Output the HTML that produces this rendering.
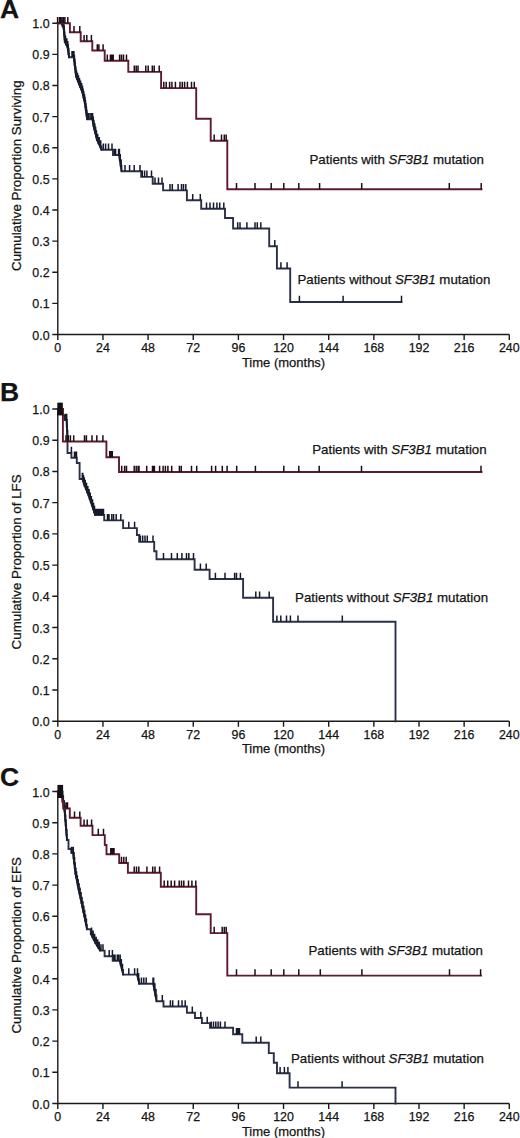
<!DOCTYPE html>
<html><head><meta charset="utf-8"><title>Kaplan-Meier curves</title>
<style>
html,body{margin:0;padding:0;background:#fff;}
body{width:520px;height:1138px;overflow:hidden;}
svg{display:block;}
text{font-family:"Liberation Sans",sans-serif;fill:#141414;stroke:#141414;stroke-width:0.25px;}
</style></head>
<body>
<svg width="520" height="1138" viewBox="0 0 520 1138">
<rect width="520" height="1138" fill="#fff"/>
<path d="M57.80,23.20V340.00M52.30,334.50H509.30M52.30,23.20H57.80M52.30,54.33H57.80M52.30,85.46H57.80M52.30,116.59H57.80M52.30,147.72H57.80M52.30,178.85H57.80M52.30,209.98H57.80M52.30,241.11H57.80M52.30,272.24H57.80M52.30,303.37H57.80M52.30,334.50H57.80M57.80,334.50V340.00M102.95,334.50V340.00M148.10,334.50V340.00M193.25,334.50V340.00M238.40,334.50V340.00M283.55,334.50V340.00M328.70,334.50V340.00M373.85,334.50V340.00M419.00,334.50V340.00M464.15,334.50V340.00M509.30,334.50V340.00" stroke="#1a1a1a" stroke-width="1.4" fill="none"/>
<text x="49.6" y="28.20" text-anchor="end" font-size="12.4">1.0</text>
<text x="49.6" y="59.33" text-anchor="end" font-size="12.4">0.9</text>
<text x="49.6" y="90.46" text-anchor="end" font-size="12.4">0.8</text>
<text x="49.6" y="121.59" text-anchor="end" font-size="12.4">0.7</text>
<text x="49.6" y="152.72" text-anchor="end" font-size="12.4">0.6</text>
<text x="49.6" y="183.85" text-anchor="end" font-size="12.4">0.5</text>
<text x="49.6" y="214.98" text-anchor="end" font-size="12.4">0.4</text>
<text x="49.6" y="246.11" text-anchor="end" font-size="12.4">0.3</text>
<text x="49.6" y="277.24" text-anchor="end" font-size="12.4">0.2</text>
<text x="49.6" y="308.37" text-anchor="end" font-size="12.4">0.1</text>
<text x="49.6" y="339.50" text-anchor="end" font-size="12.4">0.0</text>
<text x="57.80" y="352.10" text-anchor="middle" font-size="12.4">0</text>
<text x="102.95" y="352.10" text-anchor="middle" font-size="12.4">24</text>
<text x="148.10" y="352.10" text-anchor="middle" font-size="12.4">48</text>
<text x="193.25" y="352.10" text-anchor="middle" font-size="12.4">72</text>
<text x="238.40" y="352.10" text-anchor="middle" font-size="12.4">96</text>
<text x="283.55" y="352.10" text-anchor="middle" font-size="12.4">120</text>
<text x="328.70" y="352.10" text-anchor="middle" font-size="12.4">144</text>
<text x="373.85" y="352.10" text-anchor="middle" font-size="12.4">168</text>
<text x="419.00" y="352.10" text-anchor="middle" font-size="12.4">192</text>
<text x="464.15" y="352.10" text-anchor="middle" font-size="12.4">216</text>
<text x="509.30" y="352.10" text-anchor="middle" font-size="12.4">240</text>
<text x="283.55" y="366.50" text-anchor="middle" font-size="13.0">Time (months)</text>
<text transform="translate(20.6,175.65) rotate(-90)" text-anchor="middle" font-size="13.35">Cumulative Proportion Surviving</text>
<text x="0.0" y="17.60" font-size="26.5" font-weight="bold">A</text>
<path d="M57.80,23.20H61.40H62.55V26.00H63.70V28.80H63.98V32.08H64.25V35.35H64.53V38.62H64.80V41.90H66.15V44.60H67.50V47.30H68.00V50.63H68.50V53.97H69.00V57.30H73.70H74.16V61.14H74.62V64.98H75.08V68.82H75.54V72.66H76.00V76.50H77.00V79.07H78.00V81.63H79.00V84.20H80.07V86.80H81.13V89.40H82.20V92.00H82.85V94.75H83.50V97.50H84.15V100.25H84.80V103.00H85.26V106.24H85.72V109.48H86.18V112.72H86.64V115.96H87.10V119.20H92.30H92.90V122.60H93.50V126.00H94.35V129.50H95.20V133.00H96.05V136.50H96.90V140.00H98.43V143.27H99.97V146.53H101.50V149.80H113.00V155.00H119.00H119.83V160.40H120.67V165.80H121.50V171.20H141.20V176.90H152.70V183.80H163.10V190.40H186.90V200.30H201.20V208.80H225.00V218.00H233.10V228.50H269.20V246.30H276.90V268.50H290.20V302.00H401.50" stroke="#2a3048" stroke-width="1.9" fill="none" stroke-linejoin="miter" stroke-linecap="square"/>
<path d="M72.00,57.30V51.00M73.50,57.30V51.00M88.30,119.20V112.90M90.00,119.20V112.90M91.60,119.20V112.90M103.30,149.80V143.50M105.60,149.80V143.50M108.50,149.80V143.50M112.00,149.80V143.50M114.60,155.00V148.70M115.60,155.00V148.70M118.60,155.00V148.70M125.00,171.20V164.90M129.60,171.20V164.90M134.20,171.20V164.90M140.00,171.20V164.90M142.30,176.90V170.60M144.60,176.90V170.60M146.90,176.90V170.60M151.50,176.90V170.60M155.00,183.80V177.50M158.50,183.80V177.50M162.00,183.80V177.50M170.00,190.40V184.10M172.30,190.40V184.10M178.10,190.40V184.10M181.50,190.40V184.10M183.50,190.40V184.10M185.80,190.40V184.10M192.70,200.30V194.00M200.30,200.30V194.00M206.50,208.80V202.50M210.00,208.80V202.50M213.50,208.80V202.50M216.90,208.80V202.50M219.70,208.80V202.50M223.80,208.80V202.50M237.70,228.50V222.20M240.00,228.50V222.20M246.90,228.50V222.20M255.00,228.50V222.20M257.30,228.50V222.20M260.80,228.50V222.20M274.80,246.30V240.00M280.90,268.50V262.20M287.10,268.50V262.20M299.40,302.00V295.70M343.10,302.00V295.70M401.50,302.00V295.70M61.97,23.20V16.90M63.12,26.00V19.70M63.84,28.80V22.50M64.11,32.08V25.78M64.39,35.35V29.05M64.66,38.62V32.33M65.47,41.90V35.60M66.83,44.60V38.30M67.75,47.30V41.00M68.25,50.63V44.33M68.75,53.97V47.67M73.93,57.30V51.00M74.39,61.14V54.84M74.85,64.98V58.68M75.31,68.82V62.52M75.77,72.66V66.36M76.50,76.50V70.20M77.50,79.07V72.77M78.50,81.63V75.33M79.53,84.20V77.90M80.60,86.80V80.50M81.67,89.40V83.10M82.53,92.00V85.70M83.17,94.75V88.45M83.83,97.50V91.20M84.47,100.25V93.95M85.03,103.00V96.70M85.49,106.24V99.94M85.95,109.48V103.18M86.41,112.72V106.42M86.87,115.96V109.66M92.60,119.20V112.90M93.20,122.60V116.30M93.92,126.00V119.70M94.78,129.50V123.20M95.62,133.00V126.70M96.48,136.50V130.20M97.67,140.00V133.70M99.20,143.27V136.97M100.73,146.53V140.23M119.42,155.00V148.70M120.25,160.40V154.10M121.08,165.80V159.50" stroke="#151a2a" stroke-width="1.5" fill="none"/>
<path d="M61.40,23.20L63.70,28.80M63.70,28.80L64.80,41.90M64.80,41.90L67.50,47.30M67.50,47.30L69.00,57.30M73.70,57.30L76.00,76.50M76.00,76.50L79.00,84.20M79.00,84.20L82.20,92.00M82.20,92.00L84.80,103.00M84.80,103.00L87.10,119.20M92.30,119.20L93.50,126.00M93.50,126.00L96.90,140.00M96.90,140.00L101.50,149.80M119.00,155.00L121.50,171.20" stroke="#181c2c" stroke-width="1.7" fill="none" stroke-linecap="round" stroke-linejoin="round"/>
<path d="M57.80,23.20H69.90V32.20H80.70V41.20H92.30V50.50H104.70V60.80H128.30V71.90H161.10V88.10H196.20V118.80H210.70V140.70H227.30V189.20H481.50" stroke="#5e1b2e" stroke-width="1.9" fill="none" stroke-linejoin="miter" stroke-linecap="square"/>
<path d="M57.60,23.20V16.90M59.60,23.20V16.90M61.00,23.20V16.90M63.30,23.20V16.90M64.90,23.20V16.90M67.80,23.20V16.90M74.00,32.20V25.90M79.80,32.20V25.90M84.10,41.20V34.90M86.80,41.20V34.90M91.40,41.20V34.90M97.30,50.50V44.20M98.90,50.50V44.20M103.10,50.50V44.20M107.30,60.80V54.50M110.40,60.80V54.50M111.90,60.80V54.50M113.20,60.80V54.50M119.60,60.80V54.50M121.50,60.80V54.50M123.50,60.80V54.50M126.50,60.80V54.50M134.30,71.90V65.60M136.20,71.90V65.60M138.00,71.90V65.60M145.80,71.90V65.60M148.20,71.90V65.60M152.30,71.90V65.60M154.20,71.90V65.60M159.20,71.90V65.60M163.80,88.10V81.80M166.20,88.10V81.80M169.60,88.10V81.80M171.90,88.10V81.80M175.40,88.10V81.80M180.00,88.10V81.80M182.30,88.10V81.80M184.60,88.10V81.80M187.40,88.10V81.80M191.50,88.10V81.80M194.30,88.10V81.80M214.20,140.70V134.40M221.50,140.70V134.40M224.30,140.70V134.40M226.20,140.70V134.40M236.50,189.20V182.90M255.00,189.20V182.90M271.20,189.20V182.90M283.80,189.20V182.90M298.80,189.20V182.90M319.60,189.20V182.90M361.70,189.20V182.90M449.30,189.20V182.90M481.20,189.20V182.90" stroke="#200d14" stroke-width="1.5" fill="none"/>
<text x="309.50" y="164.40" font-size="13.3">Patients with <tspan font-style="italic">SF3B1</tspan> mutation</text>
<text x="297.40" y="283.50" font-size="13.3">Patients without <tspan font-style="italic">SF3B1</tspan> mutation</text>
<path d="M57.80,409.00V726.70M52.30,721.20H509.30M52.30,409.00H57.80M52.30,440.22H57.80M52.30,471.44H57.80M52.30,502.66H57.80M52.30,533.88H57.80M52.30,565.10H57.80M52.30,596.32H57.80M52.30,627.54H57.80M52.30,658.76H57.80M52.30,689.98H57.80M52.30,721.20H57.80M57.80,721.20V726.70M102.95,721.20V726.70M148.10,721.20V726.70M193.25,721.20V726.70M238.40,721.20V726.70M283.55,721.20V726.70M328.70,721.20V726.70M373.85,721.20V726.70M419.00,721.20V726.70M464.15,721.20V726.70M509.30,721.20V726.70" stroke="#1a1a1a" stroke-width="1.4" fill="none"/>
<text x="49.6" y="414.00" text-anchor="end" font-size="12.4">1.0</text>
<text x="49.6" y="445.22" text-anchor="end" font-size="12.4">0.9</text>
<text x="49.6" y="476.44" text-anchor="end" font-size="12.4">0.8</text>
<text x="49.6" y="507.66" text-anchor="end" font-size="12.4">0.7</text>
<text x="49.6" y="538.88" text-anchor="end" font-size="12.4">0.6</text>
<text x="49.6" y="570.10" text-anchor="end" font-size="12.4">0.5</text>
<text x="49.6" y="601.32" text-anchor="end" font-size="12.4">0.4</text>
<text x="49.6" y="632.54" text-anchor="end" font-size="12.4">0.3</text>
<text x="49.6" y="663.76" text-anchor="end" font-size="12.4">0.2</text>
<text x="49.6" y="694.98" text-anchor="end" font-size="12.4">0.1</text>
<text x="49.6" y="726.20" text-anchor="end" font-size="12.4">0.0</text>
<text x="57.80" y="738.80" text-anchor="middle" font-size="12.4">0</text>
<text x="102.95" y="738.80" text-anchor="middle" font-size="12.4">24</text>
<text x="148.10" y="738.80" text-anchor="middle" font-size="12.4">48</text>
<text x="193.25" y="738.80" text-anchor="middle" font-size="12.4">72</text>
<text x="238.40" y="738.80" text-anchor="middle" font-size="12.4">96</text>
<text x="283.55" y="738.80" text-anchor="middle" font-size="12.4">120</text>
<text x="328.70" y="738.80" text-anchor="middle" font-size="12.4">144</text>
<text x="373.85" y="738.80" text-anchor="middle" font-size="12.4">168</text>
<text x="419.00" y="738.80" text-anchor="middle" font-size="12.4">192</text>
<text x="464.15" y="738.80" text-anchor="middle" font-size="12.4">216</text>
<text x="509.30" y="738.80" text-anchor="middle" font-size="12.4">240</text>
<text x="283.55" y="752.50" text-anchor="middle" font-size="13.0">Time (months)</text>
<text transform="translate(20.6,561.90) rotate(-90)" text-anchor="middle" font-size="13.35">Cumulative Proportion of LFS</text>
<text x="0.0" y="401.00" font-size="26.5" font-weight="bold">B</text>
<path d="M57.80,409.00H62.90V415.40H64.50V420.00H66.40H66.95V430.75H67.50V441.50V453.00H71.40V457.70H76.80V463.00H79.60V479.00H82.40H83.13V481.33H83.87V483.67H84.60V486.00H85.90V489.13H87.20V492.27H88.50V495.40H89.65V498.80H90.80V502.20H91.95V505.60H93.10V509.00H94.05V512.00H95.00V515.00H104.20V520.40H123.10V528.10H136.90V535.00H139.20V541.90H154.20V551.20H156.50V559.20H194.60V569.80H209.60V579.00H243.10V597.70H273.10V621.80H395.50V721.20" stroke="#2a3048" stroke-width="1.9" fill="none" stroke-linejoin="miter" stroke-linecap="square"/>
<path d="M65.20,420.00V413.70M71.40,453.00V446.70M74.50,457.70V451.40M75.50,457.70V451.40M76.50,457.70V451.40M82.30,479.00V472.70M96.00,515.00V508.70M97.50,515.00V508.70M99.00,515.00V508.70M100.50,515.00V508.70M102.00,515.00V508.70M103.50,515.00V508.70M107.50,520.40V514.10M109.00,520.40V514.10M111.80,520.40V514.10M113.60,520.40V514.10M116.20,520.40V514.10M120.80,520.40V514.10M128.80,528.10V521.80M134.60,528.10V521.80M140.40,541.90V535.60M142.70,541.90V535.60M145.00,541.90V535.60M147.30,541.90V535.60M153.00,541.90V535.60M163.50,559.20V552.90M171.50,559.20V552.90M177.30,559.20V552.90M181.90,559.20V552.90M186.50,559.20V552.90M188.80,559.20V552.90M193.50,559.20V552.90M200.40,569.80V563.50M206.20,569.80V563.50M215.40,579.00V572.70M225.00,579.00V572.70M234.60,579.00V572.70M236.50,579.00V572.70M240.40,579.00V572.70M255.80,597.70V591.40M259.60,597.70V591.40M269.20,597.70V591.40M276.90,621.80V615.50M280.80,621.80V615.50M286.50,621.80V615.50M290.40,621.80V615.50M298.00,621.80V615.50M342.30,621.80V615.50M66.68,420.00V413.70M67.22,430.75V424.45M82.77,479.00V472.70M83.50,481.33V475.03M84.23,483.67V477.37M85.25,486.00V479.70M86.55,489.13V482.83M87.85,492.27V485.97M89.08,495.40V489.10M90.22,498.80V492.50M91.38,502.20V495.90M92.52,505.60V499.30M93.57,509.00V502.70M94.53,512.00V505.70" stroke="#151a2a" stroke-width="1.5" fill="none"/>
<path d="M66.40,420.00L67.50,441.50M82.40,479.00L84.60,486.00M84.60,486.00L88.50,495.40M88.50,495.40L93.10,509.00M93.10,509.00L95.00,515.00" stroke="#181c2c" stroke-width="1.7" fill="none" stroke-linecap="round" stroke-linejoin="round"/>
<path d="M57.80,409.00H62.90V441.50H106.40V457.20H119.00V472.00H481.50" stroke="#5e1b2e" stroke-width="1.9" fill="none" stroke-linejoin="miter" stroke-linecap="square"/>
<path d="M59.00,409.00V402.70M60.20,409.00V402.70M61.40,409.00V402.70M66.00,441.50V435.20M68.30,441.50V435.20M70.40,441.50V435.20M73.70,441.50V435.20M84.50,441.50V435.20M86.40,441.50V435.20M92.00,441.50V435.20M96.80,441.50V435.20M102.90,441.50V435.20M109.70,457.20V450.90M110.80,457.20V450.90M112.30,457.20V450.90M121.70,472.00V465.70M124.60,472.00V465.70M126.50,472.00V465.70M134.20,472.00V465.70M136.20,472.00V465.70M138.10,472.00V465.70M139.00,472.00V465.70M146.70,472.00V465.70M152.50,472.00V465.70M153.50,472.00V465.70M154.40,472.00V465.70M159.60,472.00V465.70M163.10,472.00V465.70M165.40,472.00V465.70M167.90,472.00V465.70M171.70,472.00V465.70M179.40,472.00V465.70M181.30,472.00V465.70M191.50,472.00V465.70M196.70,472.00V465.70M211.60,472.00V465.70M215.60,472.00V465.70M222.30,472.00V465.70M227.10,472.00V465.70M236.70,472.00V465.70M255.40,472.00V465.70M283.80,472.00V465.70M298.80,472.00V465.70M319.20,472.00V465.70M361.50,472.00V465.70M481.00,472.00V465.70" stroke="#200d14" stroke-width="1.5" fill="none"/>
<rect x="57.3" y="402.8" width="5.50" height="12.60" fill="#111"/>
<text x="312.20" y="453.80" font-size="13.3">Patients with <tspan font-style="italic">SF3B1</tspan> mutation</text>
<text x="295.10" y="601.90" font-size="13.3">Patients without <tspan font-style="italic">SF3B1</tspan> mutation</text>
<path d="M57.80,791.50V1109.00M52.30,1103.50H509.30M52.30,791.50H57.80M52.30,822.70H57.80M52.30,853.90H57.80M52.30,885.10H57.80M52.30,916.30H57.80M52.30,947.50H57.80M52.30,978.70H57.80M52.30,1009.90H57.80M52.30,1041.10H57.80M52.30,1072.30H57.80M52.30,1103.50H57.80M57.80,1103.50V1109.00M102.95,1103.50V1109.00M148.10,1103.50V1109.00M193.25,1103.50V1109.00M238.40,1103.50V1109.00M283.55,1103.50V1109.00M328.70,1103.50V1109.00M373.85,1103.50V1109.00M419.00,1103.50V1109.00M464.15,1103.50V1109.00M509.30,1103.50V1109.00" stroke="#1a1a1a" stroke-width="1.4" fill="none"/>
<text x="49.6" y="796.50" text-anchor="end" font-size="12.4">1.0</text>
<text x="49.6" y="827.70" text-anchor="end" font-size="12.4">0.9</text>
<text x="49.6" y="858.90" text-anchor="end" font-size="12.4">0.8</text>
<text x="49.6" y="890.10" text-anchor="end" font-size="12.4">0.7</text>
<text x="49.6" y="921.30" text-anchor="end" font-size="12.4">0.6</text>
<text x="49.6" y="952.50" text-anchor="end" font-size="12.4">0.5</text>
<text x="49.6" y="983.70" text-anchor="end" font-size="12.4">0.4</text>
<text x="49.6" y="1014.90" text-anchor="end" font-size="12.4">0.3</text>
<text x="49.6" y="1046.10" text-anchor="end" font-size="12.4">0.2</text>
<text x="49.6" y="1077.30" text-anchor="end" font-size="12.4">0.1</text>
<text x="49.6" y="1108.50" text-anchor="end" font-size="12.4">0.0</text>
<text x="57.80" y="1121.10" text-anchor="middle" font-size="12.4">0</text>
<text x="102.95" y="1121.10" text-anchor="middle" font-size="12.4">24</text>
<text x="148.10" y="1121.10" text-anchor="middle" font-size="12.4">48</text>
<text x="193.25" y="1121.10" text-anchor="middle" font-size="12.4">72</text>
<text x="238.40" y="1121.10" text-anchor="middle" font-size="12.4">96</text>
<text x="283.55" y="1121.10" text-anchor="middle" font-size="12.4">120</text>
<text x="328.70" y="1121.10" text-anchor="middle" font-size="12.4">144</text>
<text x="373.85" y="1121.10" text-anchor="middle" font-size="12.4">168</text>
<text x="419.00" y="1121.10" text-anchor="middle" font-size="12.4">192</text>
<text x="464.15" y="1121.10" text-anchor="middle" font-size="12.4">216</text>
<text x="509.30" y="1121.10" text-anchor="middle" font-size="12.4">240</text>
<text x="283.55" y="1135.50" text-anchor="middle" font-size="13.0">Time (months)</text>
<text transform="translate(20.6,945.30) rotate(-90)" text-anchor="middle" font-size="13.35">Cumulative Proportion of EFS</text>
<text x="0.0" y="786.00" font-size="26.5" font-weight="bold">C</text>
<path d="M57.80,791.50H61.40H62.20V797.00H62.97V801.60H63.73V806.20H64.50V810.80H64.90V815.67H65.30V820.53H65.70V825.40H66.10V830.27H66.50V835.13H66.90V840.00H68.50V849.00H71.50V853.00H73.00H73.60V858.20H74.20V863.40H74.80V868.60H75.40V873.80H76.18V877.65H76.95V881.50H77.72V885.35H78.50V889.20H79.50V893.80H80.50V898.40H81.50V903.00H82.40V907.37H83.30V911.73H84.20V916.10H85.10V920.47H86.00V924.83H86.90V929.20H90.80V933.80H92.33V936.87H93.87V939.93H95.40V943.00H96.93V945.53H98.47V948.07H100.00V950.60H104.60V956.20H112.70V960.80H119.60H120.77V965.40H121.93V970.00H123.10V974.60H136.90H138.05V979.20H139.20V983.80H153.10H154.23V989.60H155.37V995.40H156.50V1001.20H163.50V1006.50H186.90V1012.70H195.00V1018.00H201.90V1023.10H210.00V1027.70H233.10V1034.20H242.30V1042.70H268.80V1053.10H273.80V1062.80H277.00V1073.30H289.60V1087.60H395.50V1103.50" stroke="#2a3048" stroke-width="1.9" fill="none" stroke-linejoin="miter" stroke-linecap="square"/>
<path d="M71.40,853.00V846.70M73.00,853.00V846.70M101.00,950.60V944.30M103.00,950.60V944.30M109.20,956.20V949.90M112.40,956.20V949.90M113.80,960.80V954.50M115.00,960.80V954.50M117.30,960.80V954.50M118.50,960.80V954.50M128.80,974.60V968.30M134.60,974.60V968.30M141.50,983.80V977.50M143.80,983.80V977.50M146.20,983.80V977.50M153.00,983.80V977.50M162.30,1001.20V994.90M170.40,1006.50V1000.20M172.70,1006.50V1000.20M178.50,1006.50V1000.20M182.00,1006.50V1000.20M185.20,1006.50V1000.20M192.30,1012.70V1006.40M200.80,1018.00V1011.70M207.20,1023.10V1016.80M211.20,1027.70V1021.40M213.50,1027.70V1021.40M215.80,1027.70V1021.40M218.10,1027.70V1021.40M220.40,1027.70V1021.40M225.00,1027.70V1021.40M236.50,1034.20V1027.90M237.50,1034.20V1027.90M238.50,1034.20V1027.90M239.50,1034.20V1027.90M256.20,1042.70V1036.40M260.80,1042.70V1036.40M280.10,1073.30V1067.00M284.40,1073.30V1067.00M287.90,1073.30V1067.00M298.00,1087.60V1081.30M342.10,1087.60V1081.30M61.80,791.50V785.20M62.58,797.00V790.70M63.35,801.60V795.30M64.12,806.20V799.90M64.70,810.80V804.50M65.10,815.67V809.37M65.50,820.53V814.23M65.90,825.40V819.10M66.30,830.27V823.97M66.70,835.13V828.83M73.30,853.00V846.70M73.90,858.20V851.90M74.50,863.40V857.10M75.10,868.60V862.30M75.79,873.80V867.50M76.56,877.65V871.35M77.34,881.50V875.20M78.11,885.35V879.05M79.00,889.20V882.90M80.00,893.80V887.50M81.00,898.40V892.10M81.95,903.00V896.70M82.85,907.37V901.07M83.75,911.73V905.43M84.65,916.10V909.80M85.55,920.47V914.17M86.45,924.83V918.53M91.57,933.80V927.50M93.10,936.87V930.57M94.63,939.93V933.63M96.17,943.00V936.70M97.70,945.53V939.23M99.23,948.07V941.77M120.18,960.80V954.50M121.35,965.40V959.10M122.52,970.00V963.70M137.48,974.60V968.30M138.62,979.20V972.90M153.67,983.80V977.50M154.80,989.60V983.30M155.93,995.40V989.10" stroke="#151a2a" stroke-width="1.5" fill="none"/>
<path d="M61.40,791.50L62.20,797.00M62.20,797.00L64.50,810.80M64.50,810.80L66.90,840.00M73.00,853.00L75.40,873.80M75.40,873.80L78.50,889.20M78.50,889.20L81.50,903.00M81.50,903.00L86.90,929.20M90.80,933.80L95.40,943.00M95.40,943.00L100.00,950.60M119.60,960.80L123.10,974.60M136.90,974.60L139.20,983.80M153.10,983.80L156.50,1001.20" stroke="#181c2c" stroke-width="1.7" fill="none" stroke-linecap="round" stroke-linejoin="round"/>
<path d="M57.80,791.50H61.40V795.40H62.20V801.50H63.20V808.50H69.80V817.70H80.60V825.80H92.50V835.10H104.80V845.00H106.50V854.20H119.20V863.00H127.90V872.80H160.80V886.80H196.20V914.20H210.70V933.10H227.30V975.60H481.00" stroke="#5e1b2e" stroke-width="1.9" fill="none" stroke-linejoin="miter" stroke-linecap="square"/>
<path d="M58.60,791.50V785.20M59.60,791.50V785.20M60.60,791.50V785.20M61.40,791.50V785.20M66.00,808.50V802.20M67.50,808.50V802.20M74.50,817.70V811.40M79.80,817.70V811.40M84.10,825.80V819.50M87.20,825.80V819.50M91.60,825.80V819.50M98.30,835.10V828.80M103.50,835.10V828.80M110.80,854.20V847.90M111.60,854.20V847.90M112.40,854.20V847.90M113.20,854.20V847.90M114.00,854.20V847.90M121.50,863.00V856.70M123.80,863.00V856.70M126.20,863.00V856.70M134.20,872.80V866.50M136.50,872.80V866.50M138.80,872.80V866.50M146.90,872.80V866.50M152.70,872.80V866.50M155.00,872.80V866.50M159.60,872.80V866.50M164.20,886.80V880.50M167.70,886.80V880.50M171.20,886.80V880.50M174.60,886.80V880.50M179.20,886.80V880.50M181.50,886.80V880.50M183.80,886.80V880.50M188.50,886.80V880.50M191.90,886.80V880.50M195.80,886.80V880.50M214.20,933.10V926.80M222.20,933.10V926.80M224.30,933.10V926.80M226.20,933.10V926.80M236.50,975.60V969.30M255.00,975.60V969.30M271.20,975.60V969.30M283.80,975.60V969.30M298.80,975.60V969.30M320.30,975.60V969.30M361.90,975.60V969.30M449.50,975.60V969.30M480.60,975.60V969.30" stroke="#200d14" stroke-width="1.5" fill="none"/>
<rect x="57.5" y="784.9" width="5.60" height="13.10" fill="#111"/>
<text x="308.50" y="954.60" font-size="13.3">Patients with <tspan font-style="italic">SF3B1</tspan> mutation</text>
<text x="291.00" y="1062.60" font-size="13.3">Patients without <tspan font-style="italic">SF3B1</tspan> mutation</text>
</svg>
</body></html>
